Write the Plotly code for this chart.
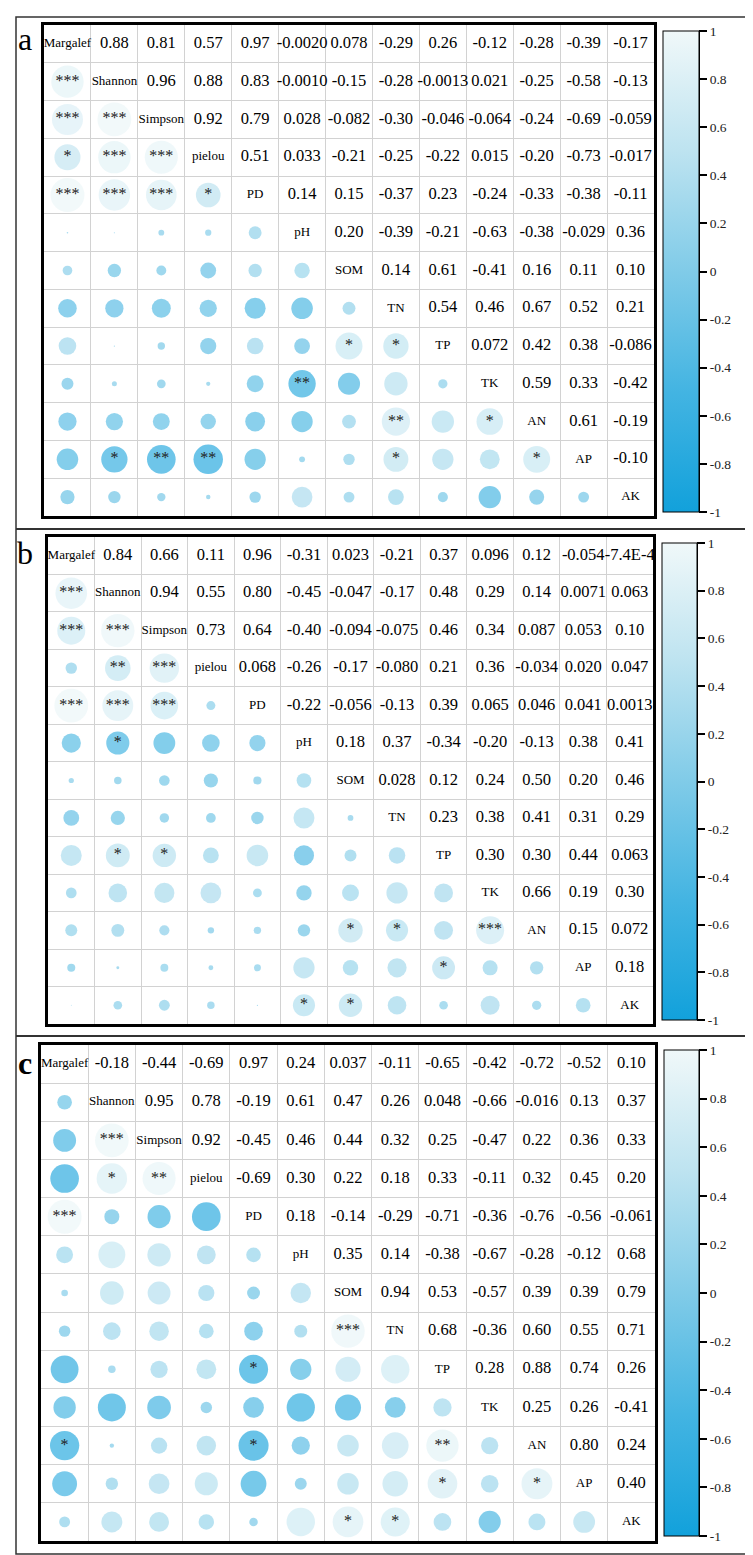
import math
import plotly.graph_objects as go

W, H = 753, 1555

labels = ["Margalef", "Shannon", "Simpson", "pielou", "PD", "pH", "SOM",
          "TN", "TP", "TK", "AN", "AP", "AK"]

# upper-triangle correlations, row i holds r(i, j) for j > i
a_upper = [
    [0.88, 0.81, 0.57, 0.97, -0.0020, 0.078, -0.29, 0.26, -0.12, -0.28, -0.39, -0.17],
    [0.96, 0.88, 0.83, -0.0010, -0.15, -0.28, -0.0013, 0.021, -0.25, -0.58, -0.13],
    [0.92, 0.79, 0.028, -0.082, -0.30, -0.046, -0.064, -0.24, -0.69, -0.059],
    [0.51, 0.033, -0.21, -0.25, -0.22, 0.015, -0.20, -0.73, -0.017],
    [0.14, 0.15, -0.37, 0.23, -0.24, -0.33, -0.38, -0.11],
    [0.20, -0.39, -0.21, -0.63, -0.38, -0.029, 0.36],
    [0.14, 0.61, -0.41, 0.16, 0.11, 0.10],
    [0.54, 0.46, 0.67, 0.52, 0.21],
    [0.072, 0.42, 0.38, -0.086],
    [0.59, 0.33, -0.42],
    [0.61, -0.19],
    [-0.10],
]
b_upper = [
    [0.84, 0.66, 0.11, 0.96, -0.31, 0.023, -0.21, 0.37, 0.096, 0.12, -0.054, -7.4e-4],
    [0.94, 0.55, 0.80, -0.45, -0.047, -0.17, 0.48, 0.29, 0.14, 0.0071, 0.063],
    [0.73, 0.64, -0.40, -0.094, -0.075, 0.46, 0.34, 0.087, 0.053, 0.10],
    [0.068, -0.26, -0.17, -0.080, 0.21, 0.36, -0.034, 0.020, 0.047],
    [-0.22, -0.056, -0.13, 0.39, 0.065, 0.046, 0.041, 0.0013],
    [0.18, 0.37, -0.34, -0.20, -0.13, 0.38, 0.41],
    [0.028, 0.12, 0.24, 0.50, 0.20, 0.46],
    [0.23, 0.38, 0.41, 0.31, 0.29],
    [0.30, 0.30, 0.44, 0.063],
    [0.66, 0.19, 0.30],
    [0.15, 0.072],
    [0.18],
]
c_upper = [
    [-0.18, -0.44, -0.69, 0.97, 0.24, 0.037, -0.11, -0.65, -0.42, -0.72, -0.52, 0.10],
    [0.95, 0.78, -0.19, 0.61, 0.47, 0.26, 0.048, -0.66, -0.016, 0.13, 0.37],
    [0.92, -0.45, 0.46, 0.44, 0.32, 0.25, -0.47, 0.22, 0.36, 0.33],
    [-0.69, 0.30, 0.22, 0.18, 0.33, -0.11, 0.32, 0.45, 0.20],
    [0.18, -0.14, -0.29, -0.71, -0.36, -0.76, -0.56, -0.061],
    [0.35, 0.14, -0.38, -0.67, -0.28, -0.12, 0.68],
    [0.94, 0.53, -0.57, 0.39, 0.39, 0.79],
    [0.68, -0.36, 0.60, 0.55, 0.71],
    [0.28, 0.88, 0.74, 0.26],
    [0.25, 0.26, -0.41],
    [0.80, 0.24],
    [0.40],
]

# significance marks, lower triangle, row i holds cols 0..i-1
a_sig = [
    [],
    ["***"],
    ["***", "***"],
    ["*", "***", "***"],
    ["***", "***", "***", "*"],
    ["", "", "", "", ""],
    ["", "", "", "", "", ""],
    ["", "", "", "", "", "", ""],
    ["", "", "", "", "", "", "*", "*"],
    ["", "", "", "", "", "**", "", "", ""],
    ["", "", "", "", "", "", "", "**", "", "*"],
    ["", "*", "**", "**", "", "", "", "*", "", "", "*"],
    ["", "", "", "", "", "", "", "", "", "", "", ""],
]
b_sig = [
    [],
    ["***"],
    ["***", "***"],
    ["", "**", "***"],
    ["***", "***", "***", ""],
    ["", "*", "", "", ""],
    ["", "", "", "", "", ""],
    ["", "", "", "", "", "", ""],
    ["", "*", "*", "", "", "", "", ""],
    ["", "", "", "", "", "", "", "", ""],
    ["", "", "", "", "", "", "*", "*", "", "***"],
    ["", "", "", "", "", "", "", "", "*", "", ""],
    ["", "", "", "", "", "*", "*", "", "", "", "", ""],
]
c_sig = [
    [],
    [""],
    ["", "***"],
    ["", "*", "**"],
    ["***", "", "", ""],
    ["", "", "", "", ""],
    ["", "", "", "", "", ""],
    ["", "", "", "", "", "", "***"],
    ["", "", "", "", "*", "", "", ""],
    ["", "", "", "", "", "", "", "", ""],
    ["*", "", "", "", "*", "", "", "", "**", ""],
    ["", "", "", "", "", "", "", "", "*", "", "*"],
    ["", "", "", "", "", "", "*", "*", "", "", "", ""],
]

cb_ticks = [1, 0.8, 0.6, 0.4, 0.2, 0, -0.2, -0.4, -0.6, -0.8, -1]
cb_ticktext = ["1", "0.8", "0.6", "0.4", "0.2", "0", "-0.2", "-0.4", "-0.6", "-0.8", "-1"]

colorscale = [[0.0, "#12a1db"], [0.25, "#43b4e2"], [0.5, "#80cbe8"],
              [0.75, "#bde3f0"], [1.0, "#f0f8f9"]]

FONT = "Liberation Serif"


def fmt(v):
    if v == 0:
        return "0"
    if abs(v) < 0.001:
        mant, exp = f"{v:.1E}".split("E")
        return f"{mant}E{int(exp)}"
    d = 1 - math.floor(math.log10(abs(v)))
    return f"{v:.{d}f}"


panels = [
    dict(upper=a_upper, sig=a_sig, letter="a", bold=False,
         x0=36, x1=646, y0=17, y1=508, cbx=655, cbw=36, cby0=23, cby1=504, ly=31),
    dict(upper=b_upper, sig=b_sig, letter="b", bold=False,
         x0=40, x1=645, y0=529, y1=1016, cbx=654, cbw=35, cby0=535, cby1=1012, ly=545),
    dict(upper=c_upper, sig=c_sig, letter="c", bold=True,
         x0=33, x1=647, y0=1037, y1=1533, cbx=656, cbw=35, cby0=1042, cby1=1528, ly=1055),
]

fig = go.Figure()
n = len(labels)
shapes = []
annotations = []

for k, p in enumerate(panels):
    sfx = "" if k == 0 else str(k + 1)
    xa, ya = "x" + sfx, "y" + sfx
    r = [[1.0] * n for _ in range(n)]
    for i, row in enumerate(p["upper"]):
        for jj, v in enumerate(row):
            j = i + 1 + jj
            r[i][j] = v
            r[j][i] = v

    cx, cy, cv, cs = [], [], [], []
    sx, sy, st = [], [], []
    for i in range(n):
        for j in range(i):
            cx.append(j)
            cy.append(i)
            cv.append(r[i][j])
            cs.append(34.5 * math.sqrt(abs(r[i][j])))
            mark = p["sig"][i][j] if j < len(p["sig"][i]) else ""
            if mark:
                sx.append(j)
                sy.append(i)
                st.append(mark)

    fig.add_trace(go.Scatter(
        x=cx, y=cy, mode="markers", xaxis=xa, yaxis=ya, hoverinfo="skip",
        marker=dict(size=cs, color=cv, cmin=-1, cmax=1, colorscale=colorscale,
                    line=dict(width=0), showscale=True,
                    colorbar=dict(
                        x=p["cbx"] / W, xanchor="left", xpad=0,
                        y=1 - p["cby0"] / H, yanchor="top", ypad=0,
                        len=(p["cby1"] - p["cby0"]) / H, lenmode="fraction",
                        thickness=p["cbw"], thicknessmode="pixels",
                        outlinewidth=1, outlinecolor="black",
                        tickvals=cb_ticks, ticktext=cb_ticktext,
                        ticks="outside", ticklen=8, tickwidth=1.5, tickcolor="black",
                        tickfont=dict(family=FONT, size=13.5, color="#222"),
                    )),
        showlegend=False,
    ))

    ux, uy, ut = [], [], []
    for i in range(n):
        for j in range(i + 1, n):
            ux.append(j)
            uy.append(i)
            ut.append(fmt(r[i][j]))
    fig.add_trace(go.Scatter(
        x=ux, y=uy, text=ut, mode="text", xaxis=xa, yaxis=ya, hoverinfo="skip",
        textposition="middle center",
        textfont=dict(family=FONT, size=16.5, color="black"), showlegend=False))

    fig.add_trace(go.Scatter(
        x=list(range(n)), y=list(range(n)), text=labels, mode="text",
        xaxis=xa, yaxis=ya, hoverinfo="skip", textposition="middle center",
        textfont=dict(family=FONT, size=13, color="black"), showlegend=False))

    fig.add_trace(go.Scatter(
        x=sx, y=sy, text=st, mode="text", xaxis=xa, yaxis=ya, hoverinfo="skip",
        textposition="middle center",
        textfont=dict(family=FONT, size=16, color="#222"), showlegend=False))

    axcommon = dict(showticklabels=False, ticks="", showgrid=True,
                    gridcolor="#d2d2d2", gridwidth=1, zeroline=False,
                    showline=True, mirror=True, linecolor="black", linewidth=2.5,
                    tickvals=[i + 0.5 for i in range(n - 1)], fixedrange=True)
    fig.update_layout(**{
        ("xaxis" + sfx): dict(domain=[p["x0"] / W, p["x1"] / W], range=[-0.5, n - 0.5],
                              anchor=ya, **axcommon),
        ("yaxis" + sfx): dict(domain=[1 - p["y1"] / H, 1 - p["y0"] / H],
                              range=[n - 0.5, -0.5], anchor=xa, **axcommon),
    })

    shapes.append(dict(type="line", xref="paper", yref="paper",
                       x0=(p["cbx"] + p["cbw"]) / W, x1=(p["cbx"] + p["cbw"]) / W,
                       y0=1 - p["cby1"] / H, y1=1 - p["cby0"] / H,
                       line=dict(color="black", width=2)))
    annotations.append(dict(
        text=("<b>%s</b>" % p["letter"]) if p["bold"] else p["letter"],
        x=17 / W, y=1 - p["ly"] / H, xref="paper", yref="paper",
        xanchor="center", yanchor="middle", showarrow=False,
        font=dict(family=FONT, size=32, color="black")))

shapes.append(dict(type="rect", xref="paper", yref="paper",
                   x0=8 / W, x1=740 / W, y0=1 - 1546 / H, y1=1 - 9 / H,
                   line=dict(color="#333", width=1.5)))
for yy in (521, 1028):
    shapes.append(dict(type="line", xref="paper", yref="paper",
                       x0=8 / W, x1=740 / W, y0=1 - yy / H, y1=1 - yy / H,
                       line=dict(color="#333", width=2)))

fig.update_layout(width=W, height=H, margin=dict(l=0, r=0, t=0, b=0),
                  paper_bgcolor="white", plot_bgcolor="white",
                  shapes=shapes, annotations=annotations,
                  font=dict(family=FONT))

fig.write_html("out.html")
